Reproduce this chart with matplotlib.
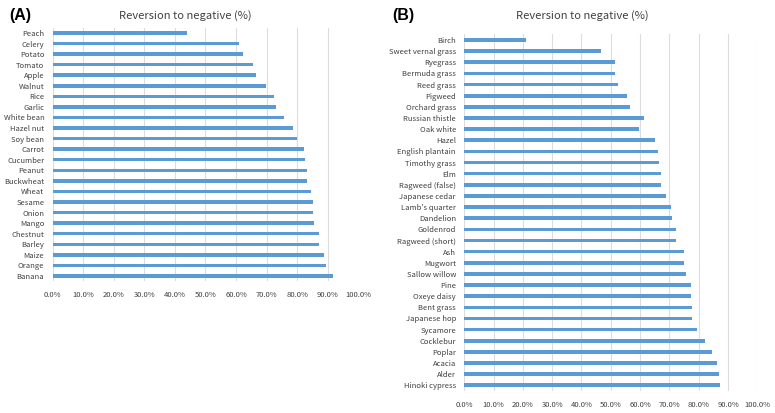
import matplotlib.pyplot as plt
from matplotlib.ticker import FuncFormatter

plt.rcParams['font.family'] = ['Noto Sans CJK KR', 'DejaVu Sans']

# panel A: foods
foods = ["Peach", "Celery", "Potato", "Tomato", "Apple", "Walnut", "Rice", "Garlic",
         "White bean", "Hazel nut", "Soy bean", "Carrot", "Cucumber", "Peanut",
         "Buckwheat", "Wheat", "Sesame", "Onion", "Mango", "Chestnut", "Barley",
         "Maize", "Orange", "Banana"]
foods_pct = [43.9, 60.9, 62.3, 65.5, 66.6, 69.7, 72.5, 73.0,
             75.7, 78.8, 80.0, 82.3, 82.6, 83.2,
             83.2, 84.4, 85.2, 85.3, 85.6, 87.0, 87.2,
             88.9, 89.5, 91.8]

# panel B: inhalants
inhal = ["Birch", "Sweet vernal grass", "Ryegrass", "Bermuda grass", "Reed grass",
         "Pigweed", "Orchard grass", "Russian thistle", "Oak white", "Hazel",
         "English plantain", "Timothy grass", "Elm", "Ragweed (false)",
         "Japanese cedar", "Lamb's quarter", "Dandelion", "Goldenrod",
         "Ragweed (short)", "Ash", "Mugwort", "Sallow willow", "Pine",
         "Oxeye daisy", "Bent grass", "Japanese hop", "Sycamore", "Cocklebur",
         "Poplar", "Acacia", "Alder", "Hinoki cypress"]
inhal_pct = [21.1, 46.7, 51.6, 51.6, 52.4,
             55.6, 56.4, 61.3, 59.7, 65.1,
             66.0, 66.6, 67.3, 67.3,
             68.8, 70.5, 71.0, 72.4,
             72.4, 74.9, 74.9, 75.5, 77.4,
             77.5, 77.7, 77.7, 79.5, 82.1,
             84.7, 86.1, 86.8, 87.4]

xticks = list(range(0, 101, 10))
bar_color = "#5B9BD5"
grid_color = "#DDDDDD"
text_color = "#404040"

fig = plt.figure(figsize=(7.75, 4.13), dpi=100)


def draw(ax, names, vals):
    ax.barh(range(len(names)), vals, height=0.33, color=bar_color, zorder=3)
    ax.set_xlim(0, 100)
    ax.set_ylim(len(names) - 0.5, -0.5)
    ax.set_yticks(range(len(names)))
    ax.set_yticklabels(names)
    ax.set_xticks(xticks)
    ax.xaxis.set_major_formatter(FuncFormatter(lambda v, p: f"{v:.1f}%"))
    ax.grid(axis="x", color=grid_color, linewidth=0.8, zorder=0)
    for s in ax.spines.values():
        s.set_visible(False)
    ax.tick_params(length=0, labelsize=5.5, labelcolor=text_color)
    ax.tick_params(axis="y", pad=6)
    ax.tick_params(axis="x", pad=7)


axA = fig.add_axes([0.068, 0.319, 0.3943, 0.614])
draw(axA, foods, foods_pct)
axB = fig.add_axes([0.599, 0.0535, 0.3782, 0.8632])
draw(axB, inhal, inhal_pct)

fig.text(0.2385, 0.962, "Reversion to negative (%)", ha="center", va="center",
         fontsize=8, color=text_color)
fig.text(0.752, 0.962, "Reversion to negative (%)", ha="center", va="center",
         fontsize=8, color=text_color)
fig.text(0.012, 0.962, "(A)", ha="left", va="center", fontsize=11.5,
         fontweight="bold", family="Liberation Sans")
fig.text(0.506, 0.962, "(B)", ha="left", va="center", fontsize=11.5,
         fontweight="bold", family="Liberation Sans")

fig.savefig("out.png", dpi=100)
